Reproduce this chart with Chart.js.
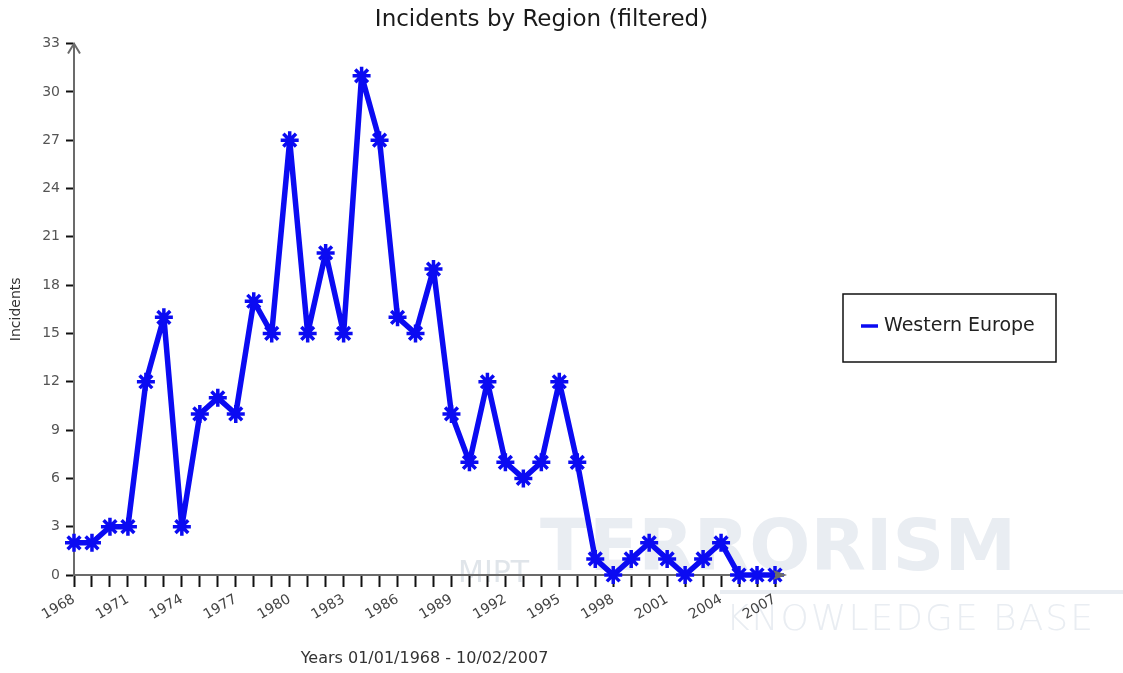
<!DOCTYPE html>
<html>
<head>
<meta charset="utf-8">
<script src="https://cdn.jsdelivr.net/npm/chart.js@4"></script>
<style>
  html, body { margin: 0; padding: 0; background: #fff; }
  #wrap { width: 1123px; height: 673px; }
</style>
</head>
<body>
<div id="wrap"><canvas id="chart" width="1123" height="673"></canvas></div>
<script>
// data
const years = [
  "1968", "1969", "1970", "1971", "1972", "1973", "1974", "1975", "1976", "1977",
  "1978", "1979", "1980", "1981", "1982", "1983", "1984", "1985", "1986", "1987",
  "1988", "1989", "1990", "1991", "1992", "1993", "1994", "1995", "1996", "1997",
  "1998", "1999", "2000", "2001", "2002", "2003", "2004", "2005", "2006", "2007"
];
const westernEurope = [
  2, 2, 3, 3, 12, 16, 3, 10, 11, 10,
  17, 15, 27, 15, 20, 15, 31, 27, 16, 15,
  19, 10, 7, 12, 7, 6, 7, 12, 7, 1,
  0, 1, 2, 1, 0, 1, 2, 0, 0, 0
];
const yTicks = [0, 3, 6, 9, 12, 15, 18, 21, 24, 27, 30, 33];
const labelEvery = 3;

const FONT = "'DejaVu Sans', Verdana, sans-serif";
const BLUE = "#0b0bf2";

//Watermark behind the plot
const watermark = {
  id: "watermark",
  beforeDraw(chart) {
    const ctx = chart.ctx;
    ctx.save();
    ctx.textBaseline = "alphabetic";
    ctx.fillStyle = "#e0e5ea";
    ctx.font = "30px " + FONT;
    ctx.fillText("MIPT", 458, 582);
    ctx.fillStyle = "#e9edf2";
    ctx.font = "bold 72px " + FONT;
    ctx.fillText("TERRORISM", 540, 570);
    ctx.fillRect(720, 590, 403, 4);
    ctx.font = "200 36px " + FONT;
    if ("letterSpacing" in ctx) ctx.letterSpacing = "2px";
    ctx.fillText("KNOWLEDGE BASE", 726, 630);
    ctx.restore();
  },
};

//Arrow heads on the axes
const axisArrows = {
  id: "axisArrows",
  afterDatasetsDraw(chart) {
    const ctx = chart.ctx;
    const { left, top, bottom, right } = chart.chartArea;
    ctx.save();
    ctx.strokeStyle = "#6b6b6b";
    ctx.fillStyle = "#6b6b6b";
    ctx.lineWidth = 2;
    // x axis runs a little past the last tick
    ctx.beginPath();
    ctx.moveTo(right, bottom);
    ctx.lineTo(right + 8, bottom);
    ctx.stroke();
    ctx.beginPath();
    ctx.moveTo(right + 12, bottom);
    ctx.lineTo(right - 2, bottom - 5);
    ctx.lineTo(right + 1, bottom);
    ctx.lineTo(right - 2, bottom + 5);
    ctx.closePath();
    ctx.fill();
    // y axis arrow
    ctx.beginPath();
    ctx.moveTo(left - 6, top + 10);
    ctx.lineTo(left, top);
    ctx.lineTo(left + 6, top + 10);
    ctx.stroke();
    ctx.restore();
  },
};

//Boxed legend at the right
const boxLegend = {
  id: "boxLegend",
  afterDraw(chart) {
    const ctx = chart.ctx;
    const ds = chart.data.datasets[0];
    ctx.save();
    ctx.fillStyle = "#fff";
    ctx.fillRect(843, 294, 213, 68);
    ctx.strokeStyle = "#111";
    ctx.lineWidth = 1.5;
    ctx.strokeRect(843, 294, 213, 68);
    ctx.strokeStyle = ds.borderColor;
    ctx.lineWidth = 3.5;
    ctx.beginPath();
    ctx.moveTo(861, 326);
    ctx.lineTo(878, 326);
    ctx.stroke();
    ctx.fillStyle = "#222";
    ctx.font = "19px " + FONT;
    ctx.textBaseline = "middle";
    ctx.fillText(ds.label, 884, 326);
    ctx.restore();
  },
};

new Chart(document.getElementById("chart"), {
  type: "line",
  data: {
    labels: years,
    datasets: [
      {
        label: "Western Europe",
        data: westernEurope,
        borderColor: BLUE,
        backgroundColor: BLUE,
        borderWidth: 5.5,
        borderJoinStyle: "round",
        pointStyle: "star",
        pointRadius: 9,
        pointBorderWidth: 3.5,
        pointBorderColor: BLUE,
        tension: 0,
        clip: false,
      },
    ],
  },
  options: {
    responsive: false,
    animation: false,
    layout: { padding: { left: 0, right: 40, top: 0, bottom: 0 } },
    plugins: {
      legend: { display: false },
      tooltip: { enabled: false },
      title: {
        display: true,
        text: "Incidents by Region (filtered)",
        color: "#1a1a1a",
        font: { family: FONT, size: 23, weight: "normal" },
        padding: { top: 6, bottom: 10 },
      },
    },
    scales: {
      x: {
        offset: false,
        afterFit: (scale) => {
          scale.height = 98;
        },
        grid: {
          drawOnChartArea: false,
          drawTicks: true,
          tickLength: 12,
          tickColor: "#111",
          tickWidth: 2,
        },
        border: { color: "#6b6b6b", width: 2 },
        ticks: {
          autoSkip: false,
          maxRotation: 30,
          minRotation: 30,
          padding: 4,
          color: "#444",
          font: { family: FONT, size: 14 },
          callback: function (value, index) {
            return index % labelEvery === 0 ? this.getLabelForValue(value) : "";
          },
        },
        title: {
          display: true,
          text: "Years 01/01/1968 - 10/02/2007",
          color: "#333",
          font: { family: FONT, size: 16 },
          padding: { top: 0, bottom: 5 },
        },
      },
      y: {
        min: 0,
        max: 33,
        afterFit: (scale) => {
          scale.width = 74;
        },
        afterBuildTicks: (scale) => {
          scale.ticks = yTicks.map((v) => ({ value: v }));
        },
        grid: {
          drawOnChartArea: false,
          drawTicks: true,
          tickLength: 8,
          tickColor: "#111",
          tickWidth: 2,
        },
        border: { color: "#6b6b6b", width: 2 },
        ticks: {
          padding: 6,
          color: "#555",
          font: { family: FONT, size: 14 },
        },
        title: {
          display: true,
          text: "Incidents",
          color: "#333",
          font: { family: FONT, size: 14 },
          padding: { top: 8, bottom: 0 },
        },
      },
      // empty scale on the right only keeps room for the legend box
      spacer: {
        type: "linear",
        position: "right",
        display: true,
        afterFit: (scale) => {
          scale.width = 308;
        },
        grid: { display: false },
        border: { display: false },
        ticks: { display: false },
      },
    },
  },
  plugins: [watermark, axisArrows, boxLegend],
});
</script>
</body>
</html>
